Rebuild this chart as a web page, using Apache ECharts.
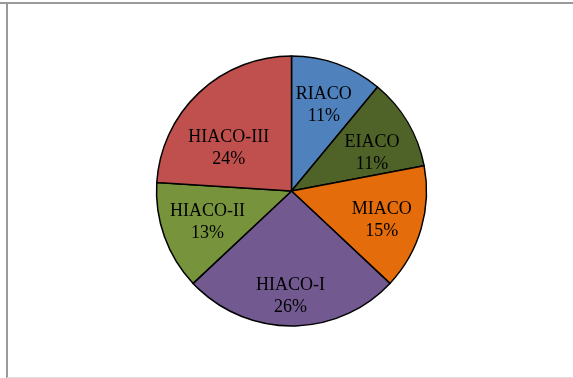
<!DOCTYPE html>
<html>
<head>
<meta charset="utf-8">
<script src="https://cdn.jsdelivr.net/npm/echarts@6/dist/echarts.min.js"></script>
<style>
  html, body { margin: 0; padding: 0; background: #fff; }
  #chart { width: 573px; height: 378px; }
</style>
</head>
<body>
<div id="chart"></div>
<script>
// Share of each scheme, clockwise from 12 o'clock
const categories = ['RIACO', 'EIACO', 'MIACO', 'HIACO-I', 'HIACO-II', 'HIACO-III'];
const shares = [11, 11, 15, 26, 13, 24];
const sliceColors = ['#4F81BD', '#4F6228', '#E46C0A', '#725990', '#77933C', '#C0504D'];

// "best fit" label placement: distance from centre (fraction of radius)
// and a small turn (degrees) away from the slice's mid angle
const labelRadius = [0.684, 0.661, 0.70, 0.776, 0.66, 0.568];
const labelTurn = [0.7, 5, 1, 0.5, 0.2, -11.8];

const CX = 291.5, CY = 191, R = 135;

const total = shares.reduce((a, b) => a + b, 0);
const midAngles = [];
let acc = 0;
shares.forEach(v => { midAngles.push((acc + v / 2) / total * 360); acc += v; });

const chart = echarts.init(document.getElementById('chart'), null, { renderer: 'canvas' });

chart.setOption({
  animation: false,
  backgroundColor: '#ffffff',
  graphic: [
    { type: 'line', shape: { x1: 0, y1: 3, x2: 573, y2: 3 }, style: { stroke: '#9a9a9a', lineWidth: 2 } },
    { type: 'line', shape: { x1: 7, y1: 2, x2: 7, y2: 378 }, style: { stroke: '#9a9a9a', lineWidth: 2 } },
    { type: 'line', shape: { x1: 7, y1: 377.5, x2: 573, y2: 377.5 }, style: { stroke: '#dddddd', lineWidth: 1 } }
  ],
  series: [{
    type: 'pie',
    center: [CX, CY],
    radius: [0, R],
    startAngle: 90,
    clockwise: true,
    avoidLabelOverlap: false,
    itemStyle: { borderColor: '#000', borderWidth: 1.5 },
    label: {
      show: true,
      position: 'inside',
      formatter: '{b}\n{d}%',
      fontFamily: '"Liberation Serif", "Times New Roman", serif',
      fontSize: 18,
      lineHeight: 22,
      color: '#000'
    },
    labelLine: { show: false },
    emphasis: { disabled: true },
    labelLayout: function (p) {
      const i = p.dataIndex;
      const a = (midAngles[i] + labelTurn[i]) * Math.PI / 180;
      const d = R * labelRadius[i];
      return { x: CX + Math.sin(a) * d, y: CY - Math.cos(a) * d + 1, align: 'center', verticalAlign: 'middle' };
    },
    data: categories.map((name, i) => ({
      name: name,
      value: shares[i],
      itemStyle: { color: sliceColors[i] }
    }))
  }]
});
</script>
</body>
</html>
